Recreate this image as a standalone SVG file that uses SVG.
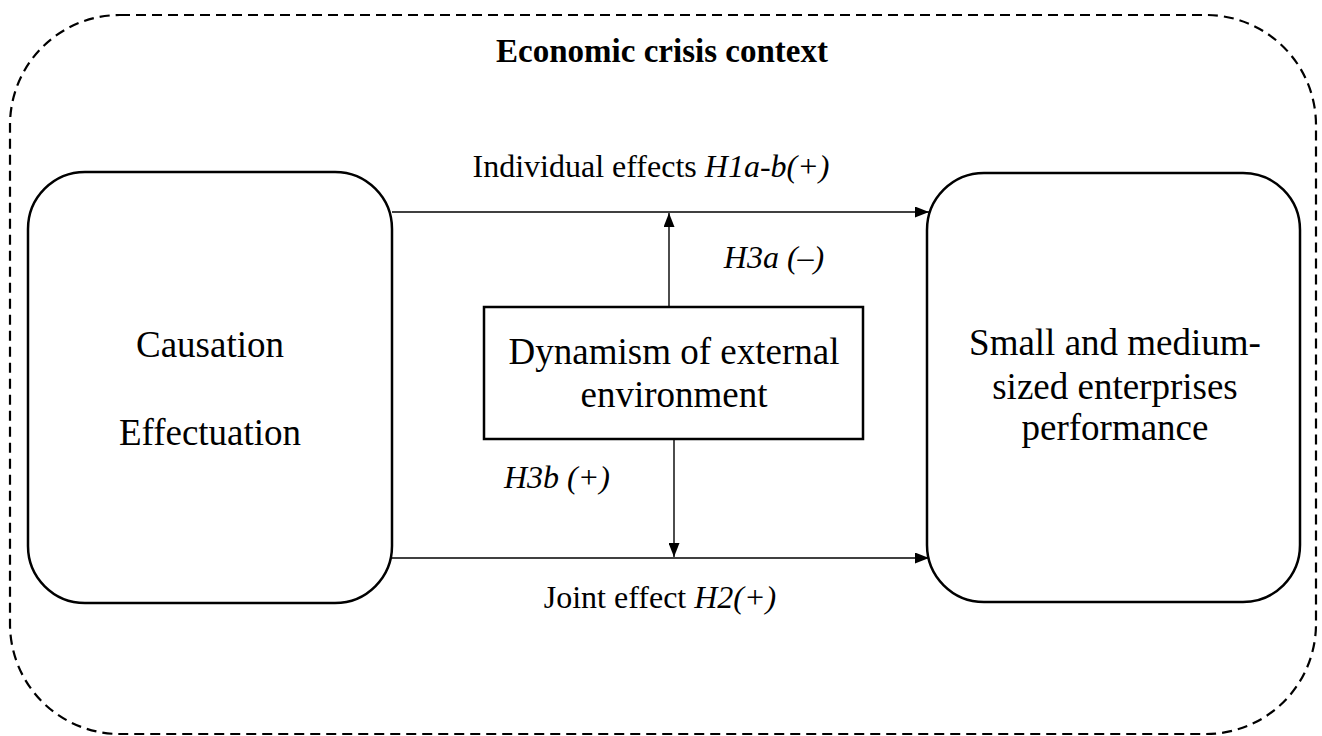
<svg xmlns="http://www.w3.org/2000/svg" width="1322" height="736" viewBox="0 0 1322 736">
<style>
text{font-family:"Liberation Serif","Times New Roman",serif;fill:#000}
.node{fill:#fff;stroke:#000;stroke-width:2.5}
.lbl{font-size:37px;text-anchor:middle}
.edge{font-size:32px}
.conn{stroke:#000;stroke-width:1.4;fill:none}
</style>
<defs>
<marker id="arr" viewBox="0 0 14 11" refX="14" refY="5.5" markerWidth="14" markerHeight="11" markerUnits="userSpaceOnUse" orient="auto">
<path d="M0,0 L14,5.5 L0,11 Z" fill="#000"/>
</marker>
</defs>
<rect width="1322" height="736" fill="#fff"/>
<g id="context">
<rect x="10" y="15" width="1306" height="719" rx="110" ry="110" fill="none" stroke="#000" stroke-width="2.2" stroke-dasharray="10,6"/>
<text x="662" y="62" font-size="33" font-weight="bold" text-anchor="middle">Economic crisis context</text>
</g>
<g id="connectors">
<line class="conn" x1="392" y1="212" x2="929" y2="212" marker-end="url(#arr)"/>
<line class="conn" x1="392" y1="558" x2="929" y2="558" marker-end="url(#arr)"/>
<line class="conn" x1="669" y1="307" x2="669" y2="213" marker-end="url(#arr)"/>
<line class="conn" x1="674" y1="439" x2="674" y2="557" marker-end="url(#arr)"/>
<text class="edge" x="651" y="177" text-anchor="middle">Individual effects <tspan font-style="italic">H1a-b(+)</tspan></text>
<text class="edge" x="774" y="268" text-anchor="middle" font-style="italic">H3a (–)</text>
<text class="edge" x="557" y="488" text-anchor="middle" font-style="italic">H3b (+)</text>
<text class="edge" x="660" y="608" text-anchor="middle">Joint effect <tspan font-style="italic">H2(+)</tspan></text>
</g>
<g id="strategy">
<rect class="node" x="28" y="172" width="364" height="431" rx="57" ry="57"/>
<text class="lbl" x="210" y="357">Causation</text>
<text class="lbl" x="210" y="445">Effectuation</text>
</g>
<g id="dynamism">
<rect class="node" x="484" y="307" width="379" height="132"/>
<text class="lbl" x="674" y="364">Dynamism of external</text>
<text class="lbl" x="674" y="407">environment</text>
</g>
<g id="performance">
<rect class="node" x="927" y="173" width="373" height="429" rx="57" ry="57"/>
<text class="lbl" x="1115" y="355">Small and medium-</text>
<text class="lbl" x="1115" y="399">sized enterprises</text>
<text class="lbl" x="1115" y="440">performance</text>
</g>
</svg>
